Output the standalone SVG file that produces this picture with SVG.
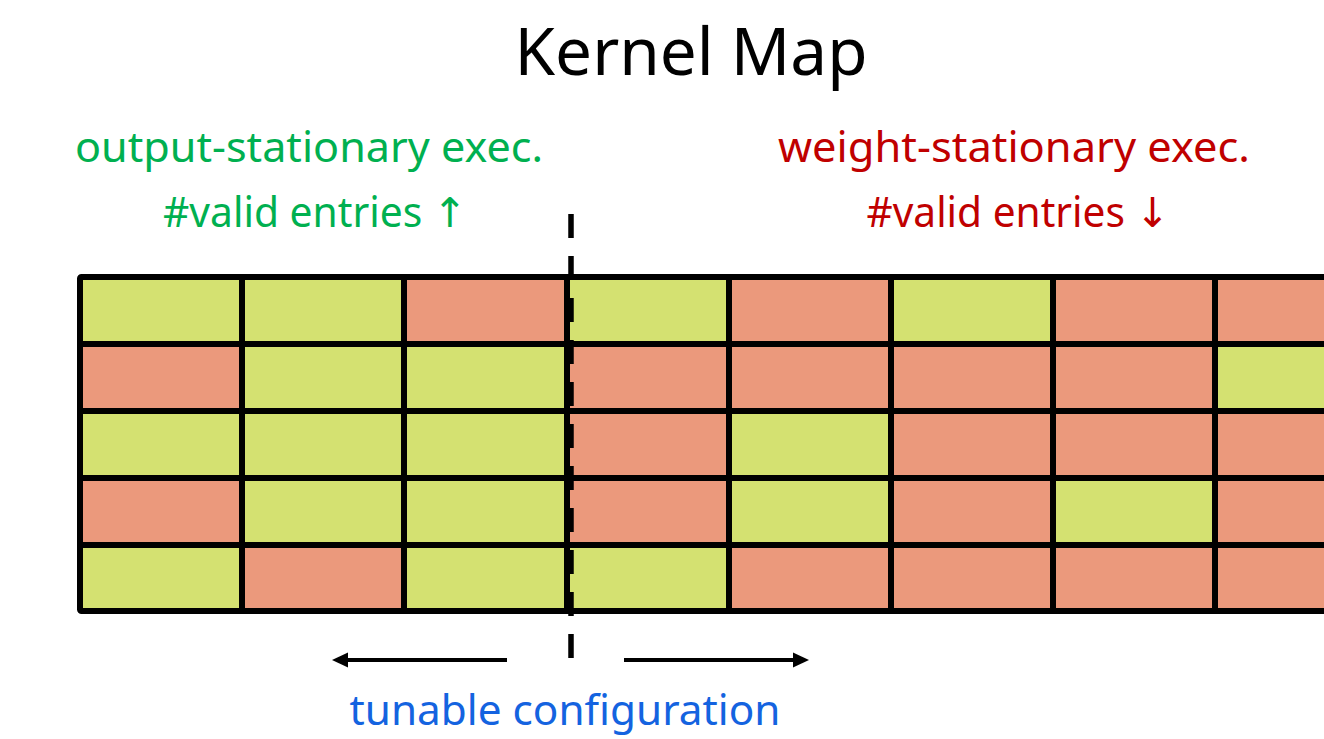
<svg xmlns="http://www.w3.org/2000/svg" width="1324" height="739" viewBox="0 0 1324 739">
  <defs>
    <style>
      .txt { font-family: "Noto Sans", "Open Sans", "DejaVu Sans", sans-serif; text-anchor: middle; }
      .title { font-size: 65px; fill: #000; }
      .lbl { font-size: 41px; }
      .ok { fill: #00B050; }
      .bad { fill: #C00000; }
      .tune { fill: #1463E0; font-size: 41px; }
      .g { fill: #D4E171; }
      .r { fill: #EB997C; }
      .grid { stroke: #000; stroke-width: 6; fill: none; stroke-linecap: square; }
      .frame { stroke: #000; stroke-width: 6; fill: none; stroke-linejoin: round; }
      .split { stroke: #000; stroke-width: 5.5; stroke-dasharray: 24 18; fill: none; }
      .arrow { stroke: #000; stroke-width: 4; fill: none; }
    </style>
    <marker id="head" viewBox="0 0 16 16" refX="1" refY="8" markerWidth="16" markerHeight="16" markerUnits="userSpaceOnUse" orient="auto">
      <path d="M0,0.5 L16,8 L0,15.5 Z" fill="#000"/>
    </marker>
  </defs>

  <rect width="1324" height="739" fill="#fff"/>

  <!-- heading -->
  <g id="title">
    <text class="txt title" x="691" y="75" textLength="353" lengthAdjust="spacingAndGlyphs">Kernel Map</text>
  </g>

  <!-- execution mode captions -->
  <g id="output-stationary">
    <text class="txt lbl ok" x="309" y="162" textLength="468" lengthAdjust="spacingAndGlyphs">output-stationary exec.</text>
    <text class="txt lbl ok" x="315" y="227" textLength="304" lengthAdjust="spacingAndGlyphs">#valid entries ↑</text>
  </g>
  <g id="weight-stationary">
    <text class="txt lbl bad" x="1014" y="162" textLength="472" lengthAdjust="spacingAndGlyphs">weight-stationary exec.</text>
    <text class="txt lbl bad" x="1018" y="227" textLength="303" lengthAdjust="spacingAndGlyphs">#valid entries ↓</text>
  </g>

  <!-- kernel map cells: columns every 162px from x=80, rows every ~67px from y=277 -->
  <g id="kernel-map">
    <g id="row1">
      <rect class="g" x="80" y="277" width="162" height="67"/>
      <rect class="g" x="242" y="277" width="162" height="67"/>
      <rect class="r" x="404" y="277" width="163" height="67"/>
      <rect class="g" x="567" y="277" width="162" height="67"/>
      <rect class="r" x="729" y="277" width="162" height="67"/>
      <rect class="g" x="891" y="277" width="162" height="67"/>
      <rect class="r" x="1053" y="277" width="162" height="67"/>
      <rect class="r" x="1215" y="277" width="162" height="67"/>
    </g>
    <g id="row2">
      <rect class="r" x="80" y="344" width="162" height="67"/>
      <rect class="g" x="242" y="344" width="162" height="67"/>
      <rect class="g" x="404" y="344" width="163" height="67"/>
      <rect class="r" x="567" y="344" width="162" height="67"/>
      <rect class="r" x="729" y="344" width="162" height="67"/>
      <rect class="r" x="891" y="344" width="162" height="67"/>
      <rect class="r" x="1053" y="344" width="162" height="67"/>
      <rect class="g" x="1215" y="344" width="162" height="67"/>
    </g>
    <g id="row3">
      <rect class="g" x="80" y="411" width="162" height="67"/>
      <rect class="g" x="242" y="411" width="162" height="67"/>
      <rect class="g" x="404" y="411" width="163" height="67"/>
      <rect class="r" x="567" y="411" width="162" height="67"/>
      <rect class="g" x="729" y="411" width="162" height="67"/>
      <rect class="r" x="891" y="411" width="162" height="67"/>
      <rect class="r" x="1053" y="411" width="162" height="67"/>
      <rect class="r" x="1215" y="411" width="162" height="67"/>
    </g>
    <g id="row4">
      <rect class="r" x="80" y="478" width="162" height="67"/>
      <rect class="g" x="242" y="478" width="162" height="67"/>
      <rect class="g" x="404" y="478" width="163" height="67"/>
      <rect class="r" x="567" y="478" width="162" height="67"/>
      <rect class="g" x="729" y="478" width="162" height="67"/>
      <rect class="r" x="891" y="478" width="162" height="67"/>
      <rect class="g" x="1053" y="478" width="162" height="67"/>
      <rect class="r" x="1215" y="478" width="162" height="67"/>
    </g>
    <g id="row5">
      <rect class="g" x="80" y="545" width="162" height="66"/>
      <rect class="r" x="242" y="545" width="162" height="66"/>
      <rect class="g" x="404" y="545" width="163" height="66"/>
      <rect class="g" x="567" y="545" width="162" height="66"/>
      <rect class="r" x="729" y="545" width="162" height="66"/>
      <rect class="r" x="891" y="545" width="162" height="66"/>
      <rect class="r" x="1053" y="545" width="162" height="66"/>
      <rect class="r" x="1215" y="545" width="162" height="66"/>
    </g>
    <!-- cell borders -->
    <path class="grid" d="M80,344 H1380 M80,411 H1380 M80,478 H1380 M80,545 H1380
                          M242,277 V611 M404,277 V611 M567,277 V611 M729,277 V611
                          M891,277 V611 M1053,277 V611 M1215,277 V611"/>
    <rect class="frame" x="80" y="277" width="1300" height="334" rx="1.5"/>
  </g>

  <!-- split point and tuning direction -->
  <g id="connectors">
    <line class="split" x1="571" y1="214" x2="571" y2="660"/>
    <line class="arrow" x1="507" y1="660" x2="347" y2="660" marker-end="url(#head)"/>
    <line class="arrow" x1="624" y1="660" x2="794" y2="660" marker-end="url(#head)"/>
  </g>

  <g id="tunable">
    <text class="txt tune" x="565" y="725" textLength="431" lengthAdjust="spacingAndGlyphs">tunable configuration</text>
  </g>
</svg>
